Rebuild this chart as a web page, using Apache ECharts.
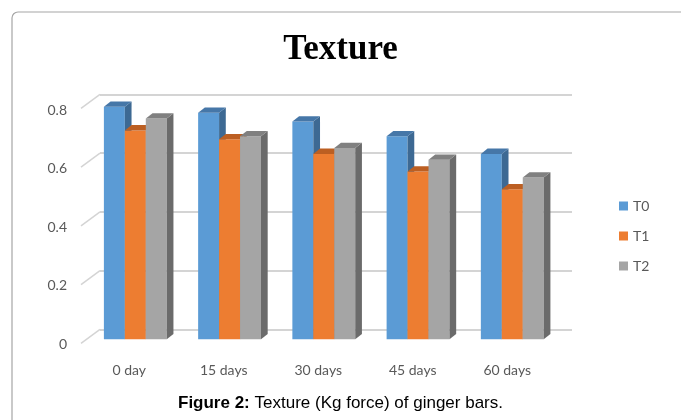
<!DOCTYPE html>
<html>
<head>
<meta charset="utf-8">
<script src="https://cdn.jsdelivr.net/npm/echarts@6/dist/echarts.min.js"></script>
<style>html,body{margin:0;padding:0;background:#fff;}#c{width:681px;height:420px;}</style>
</head>
<body>
<div id="c"></div>
<script>
var categories = ['0 day', '15 days', '30 days', '45 days', '60 days'];
var seriesNames = ['T0', 'T1', 'T2'];
var t0 = [0.79, 0.77, 0.74, 0.69, 0.63];
var t1 = [0.71, 0.68, 0.63, 0.57, 0.51];
var t2 = [0.75, 0.69, 0.65, 0.61, 0.55];
var yTicks = [0, 0.2, 0.4, 0.6, 0.8];

var faceColors = ['#5b9bd5', '#ed7d31', '#a5a5a5'];
var topColors = ['#4677a8', '#bc5f22', '#808080'];
var sideColors = ['#3d6993', '#a8541d', '#6b6b6b'];
var DX = 6.7, DY = 5.3;

function barRenderer(idx) {
  return function (params, api) {
    var cat = api.value(0), val = api.value(1);
    var base = api.coord([cat, 0]);
    var top = api.coord([cat, val]);
    var band = api.size([1, 0])[0];
    var bw = band * 0.667 / 3;
    var x0 = base[0] - 1.5 * bw + idx * bw;
    var x1 = x0 + bw;
    var yt = top[1], yb = base[1];
    return {
      type: 'group',
      children: [
        { type: 'rect', shape: { x: x0, y: yt, width: bw, height: yb - yt }, style: { fill: faceColors[idx] } },
        { type: 'polygon', shape: { points: [[x1, yt], [x1 + DX, yt - DY], [x1 + DX, yb - DY], [x1, yb]] }, style: { fill: sideColors[idx] } },
        { type: 'polygon', shape: { points: [[x0, yt], [x0 + DX, yt - DY], [x1 + DX, yt - DY], [x1, yt]] }, style: { fill: topColors[idx] } }
      ]
    };
  };
}

var allData = [t0, t1, t2];
var barSeries = seriesNames.map(function (name, i) {
  return {
    name: name,
    type: 'custom',
    xAxisIndex: 1,
    yAxisIndex: 1,
    itemStyle: { color: faceColors[i] },
    renderItem: barRenderer(i),
    data: allData[i].map(function (v, j) { return [j, v]; }),
    z: 3 + i
  };
});

var chart = echarts.init(document.getElementById('c'), null, { renderer: 'canvas' });
chart.setOption({
  animation: false,
  backgroundColor: '#ffffff',
  graphic: [{
    type: 'rect', left: 9.5, top: 9.5,
    shape: { width: 720, height: 500, r: 6 },
    style: { fill: 'none', stroke: '#a6a6a6', lineWidth: 1.2 },
    z: -10
  }],
  title: [{
    text: 'Texture',
    left: 'center', top: 27,
    textStyle: { fontFamily: 'Liberation Serif', fontWeight: 'bold', fontSize: 35, color: '#000' }
  }, {
    text: '{b|Figure 2:} Texture (Kg force) of ginger bars.',
    left: 'center', top: 390,
    textStyle: {
      fontFamily: 'Liberation Sans', fontWeight: 'normal', fontSize: 17, color: '#000',
      rich: { b: { fontFamily: 'Liberation Sans', fontWeight: 'bold', fontSize: 17, color: '#000' } }
    }
  }],
  legend: {
    orient: 'vertical',
    left: 614, top: 194,
    itemWidth: 9, itemHeight: 9, itemGap: 16,
    icon: 'rect',
    textStyle: { fontFamily: 'Lato', fontSize: 14, color: '#595959' },
    data: seriesNames
  },
  grid: [
    { left: 100, right: 109, top: 94.3, height: 235, containLabel: false },
    { left: 88.2, right: 121.6, top: 103.9, height: 235.4, containLabel: false },
    { left: 82, right: 126.5, top: 110, height: 234, containLabel: false }
  ],
  xAxis: [
    { gridIndex: 0, type: 'value', min: 0, max: 1, show: false },
    { gridIndex: 1, type: 'category', data: categories, show: false },
    { gridIndex: 2, type: 'category', data: categories,
      axisLine: { show: false }, axisTick: { show: false },
      axisLabel: { margin: 19, fontFamily: 'Lato', fontSize: 14, color: '#595959' } }
  ],
  yAxis: [
    { gridIndex: 0, type: 'value', min: 0, max: 0.8, interval: 0.2,
      axisLabel: { show: false }, axisLine: { show: false }, axisTick: { show: false },
      splitLine: { show: true, lineStyle: { color: '#d4d4d4', width: 2 } } },
    { gridIndex: 1, type: 'value', min: 0, max: 0.8, interval: 0.2, show: false, splitLine: { show: false } },
    { gridIndex: 2, type: 'value', min: 0, max: 0.8, interval: 0.2,
      axisLine: { show: false }, axisTick: { show: false }, splitLine: { show: false },
      axisLabel: { margin: 15, fontFamily: 'Lato', fontSize: 14, color: '#595959' } }
  ],
  series: [{
    type: 'custom',
    xAxisIndex: 0, yAxisIndex: 0,
    silent: true,
    z: 1,
    renderItem: function (params, api) {
      var p = api.coord([0, api.value(1)]);
      return { type: 'line', shape: { x1: p[0] - 19, y1: p[1] + 14, x2: p[0], y2: p[1] },
               style: { stroke: '#d4d4d4', lineWidth: 1.5 } };
    },
    data: yTicks.map(function (v) { return [0, v]; })
  }].concat(barSeries)
});
</script>
</body>
</html>
